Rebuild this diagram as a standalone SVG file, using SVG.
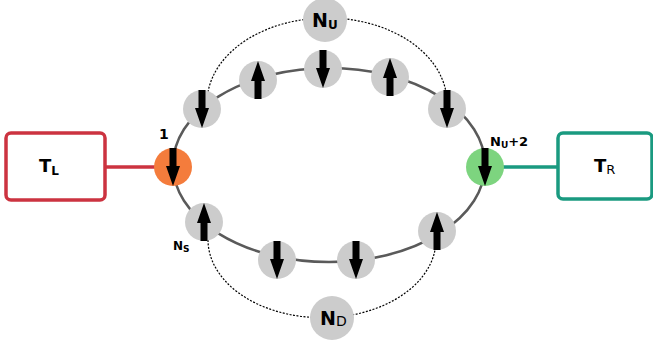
<svg xmlns="http://www.w3.org/2000/svg" width="653" height="344" viewBox="0 0 653 344">
<style>
.ring{fill:none;stroke:#5a5a5a;stroke-width:2.5}
.dash{fill:none;stroke:#000;stroke-width:1.2;stroke-dasharray:2,1.5}
.site{fill:#cccccc}
.arr{fill:#000}
.t{font-family:"DejaVu Sans","Liberation Sans",sans-serif;font-weight:bold;fill:#000}
.n{font-weight:normal}
</style>
<defs>
<path id="down" d="M-3.5,-19 H3.5 V-1 H7 L0,19 L-7,-1 H-3.5 Z"/>
<path id="up" d="M-3.5,19 H3.5 V1 H7 L0,-19 L-7,1 H-3.5 Z"/>
</defs>
<g id="connectors">
<ellipse class="ring" cx="329" cy="165" rx="156" ry="97"/>
<path class="dash" d="M208,92 A120,85 0 0 1 446,92"/>
<path class="dash" d="M208,240 A114,78 0 0 0 435,250"/>
<line x1="106" y1="167" x2="156" y2="167" stroke="#cc3340" stroke-width="3.5"/>
<line x1="502" y1="167" x2="557" y2="167" stroke="#1a9a80" stroke-width="3.5"/>
</g>
<g id="TL">
<rect x="6" y="133" width="99" height="67" rx="5" fill="#fff" stroke="#cc3340" stroke-width="3.5"/>
<text class="t" x="39" y="172" font-size="18">T<tspan font-size="12" dy="3">L</tspan></text>
</g>
<g id="TR">
<rect x="558" y="133" width="94" height="66" rx="5" fill="#fff" stroke="#1a9a80" stroke-width="3.5"/>
<text class="t" x="594" y="172" font-size="18">T<tspan class="n" font-size="13" dy="2">R</tspan></text>
</g>
<g id="site1">
<circle cx="173" cy="167" r="19" fill="#f47c3c"/>
<use href="#down" class="arr" x="173" y="167"/>
<text class="t" x="159" y="139" font-size="14">1</text>
</g>
<g id="siteNU2">
<circle cx="485" cy="167" r="19" fill="#7dd47f"/>
<use href="#down" class="arr" x="485" y="167"/>
<text class="t" x="490" y="146" font-size="13">N<tspan font-size="9" dy="2">U</tspan><tspan dy="-2">+2</tspan></text>
</g>
<g id="s2"><circle class="site" cx="202" cy="109" r="19"/><use href="#down" class="arr" x="202" y="109"/></g>
<g id="s3"><circle class="site" cx="258" cy="80" r="19"/><use href="#up" class="arr" x="258" y="80"/></g>
<g id="s4"><circle class="site" cx="323" cy="69" r="19"/><use href="#down" class="arr" x="323" y="69"/></g>
<g id="s5"><circle class="site" cx="390" cy="77" r="19"/><use href="#up" class="arr" x="390" y="77"/></g>
<g id="s6"><circle class="site" cx="447" cy="109" r="19"/><use href="#down" class="arr" x="447" y="109"/></g>
<g id="sNS">
<circle class="site" cx="204" cy="222" r="19"/><use href="#up" class="arr" x="204" y="222"/>
<text class="t" x="173" y="250" font-size="12">N<tspan font-size="9" dy="2">S</tspan></text>
</g>
<g id="s8"><circle class="site" cx="277" cy="260" r="19"/><use href="#down" class="arr" x="277" y="260"/></g>
<g id="s9"><circle class="site" cx="356" cy="260" r="19"/><use href="#down" class="arr" x="356" y="260"/></g>
<g id="s10"><circle class="site" cx="437" cy="231" r="19"/><use href="#up" class="arr" x="437" y="231"/></g>
<g id="NU">
<circle class="site" cx="325" cy="20" r="22"/>
<text class="t" x="312" y="27" font-size="19">N<tspan font-size="12" dy="2">U</tspan></text>
</g>
<g id="ND">
<circle class="site" cx="332" cy="318" r="22"/>
<text class="t" x="320" y="325" font-size="19">N<tspan class="n" font-size="14" dy="1">D</tspan></text>
</g>
</svg>
